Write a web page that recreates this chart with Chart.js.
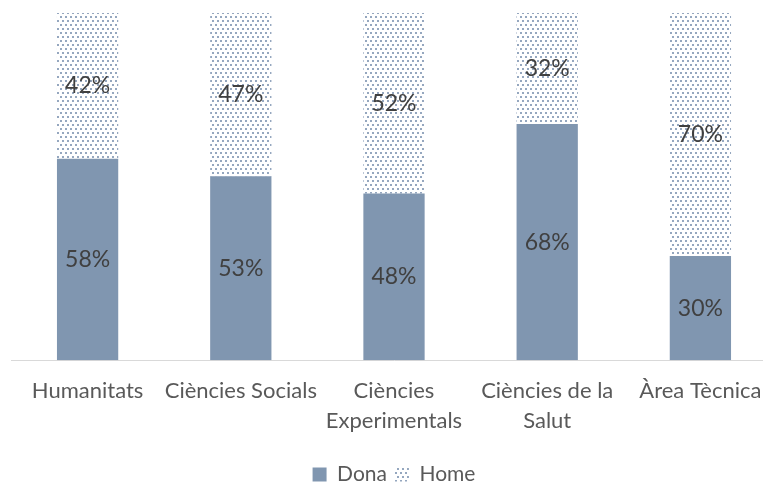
<!DOCTYPE html>
<html>
<head>
<meta charset="utf-8">
<script src="https://cdn.jsdelivr.net/npm/chart.js@4.4.1/dist/chart.umd.min.js"></script>
<style>
  html, body { margin: 0; padding: 0; background: #fff; overflow: hidden; }
  #wrap { width: 778px; height: 495px; }
</style>
</head>
<body>
<div id="wrap"><canvas id="grafic" width="778" height="495"></canvas></div>
<script>
const categories = ['Humanitats', 'Ciències Socials', ['Ciències', 'Experimentals'], ['Ciències de la', 'Salut'], 'Àrea Tècnica'];
const dona = [58, 53, 48, 68, 30];
const home = [42, 47, 52, 32, 70];

const colorDona = '#8096b0';
const font = 'Lato';

// patró de punts per a "Home"
function patroPunts() {
  const c = document.createElement('canvas');
  c.width = 10; c.height = 8;
  const p = c.getContext('2d');
  p.fillStyle = '#ffffff';
  p.fillRect(0, 0, 10, 8);
  p.fillStyle = '#95a7bf';
  p.fillRect(0, 0, 2, 2);
  p.fillRect(5, 0, 2, 2);
  p.fillRect(2, 4, 2, 2);
  p.fillRect(7, 4, 2, 2);
  return p.createPattern(c, 'repeat');
}

// etiquetes dins de les barres
const etiquetes = {
  id: 'etiquetes',
  afterDatasetsDraw(chart) {
    const ctx = chart.ctx;
    ctx.save();
    ctx.font = '23px ' + font;
    ctx.fillStyle = '#404040';
    ctx.textAlign = 'center';
    ctx.textBaseline = 'middle';
    chart.data.datasets.forEach((ds, i) => {
      chart.getDatasetMeta(i).data.forEach((bar, j) => {
        const mid = (bar.y + bar.base) / 2;
        ctx.fillText(ds.data[j] + '%', bar.x, mid);
      });
    });
    ctx.restore();
  }
};

const ctx = document.getElementById('grafic').getContext('2d');
const grafic = new Chart(ctx, {
  type: 'bar',
  data: {
    labels: categories,
    datasets: [
      { label: 'Dona', data: dona, backgroundColor: colorDona, barPercentage: 0.4, categoryPercentage: 1 },
      { label: 'Home', data: home, backgroundColor: patroPunts(), barPercentage: 0.4, categoryPercentage: 1 }
    ]
  },
  options: {
    responsive: false,
    animation: false,
    layout: { padding: { top: 13, left: 11, right: 1, bottom: 0 } },
    plugins: {
      legend: {
        position: 'bottom',
        labels: {
          boxWidth: 14, boxHeight: 14, padding: 8,
          color: '#595959',
          font: { family: font, size: 21 }
        }
      },
      tooltip: { enabled: false }
    },
    scales: {
      x: {
        stacked: true,
        grid: { display: false },
        border: { color: '#d9d9d9', width: 1 },
        ticks: { color: '#595959', font: { family: font, size: 22, lineHeight: 1.36 }, maxRotation: 0, autoSkip: false, padding: 8 },
        title: { display: true, text: ' ', font: { size: 12, lineHeight: 1 }, padding: 0 }
      },
      y: { stacked: true, display: false, min: 0, max: 100 }
    }
  },
  plugins: [etiquetes]
});
</script>
</body>
</html>
